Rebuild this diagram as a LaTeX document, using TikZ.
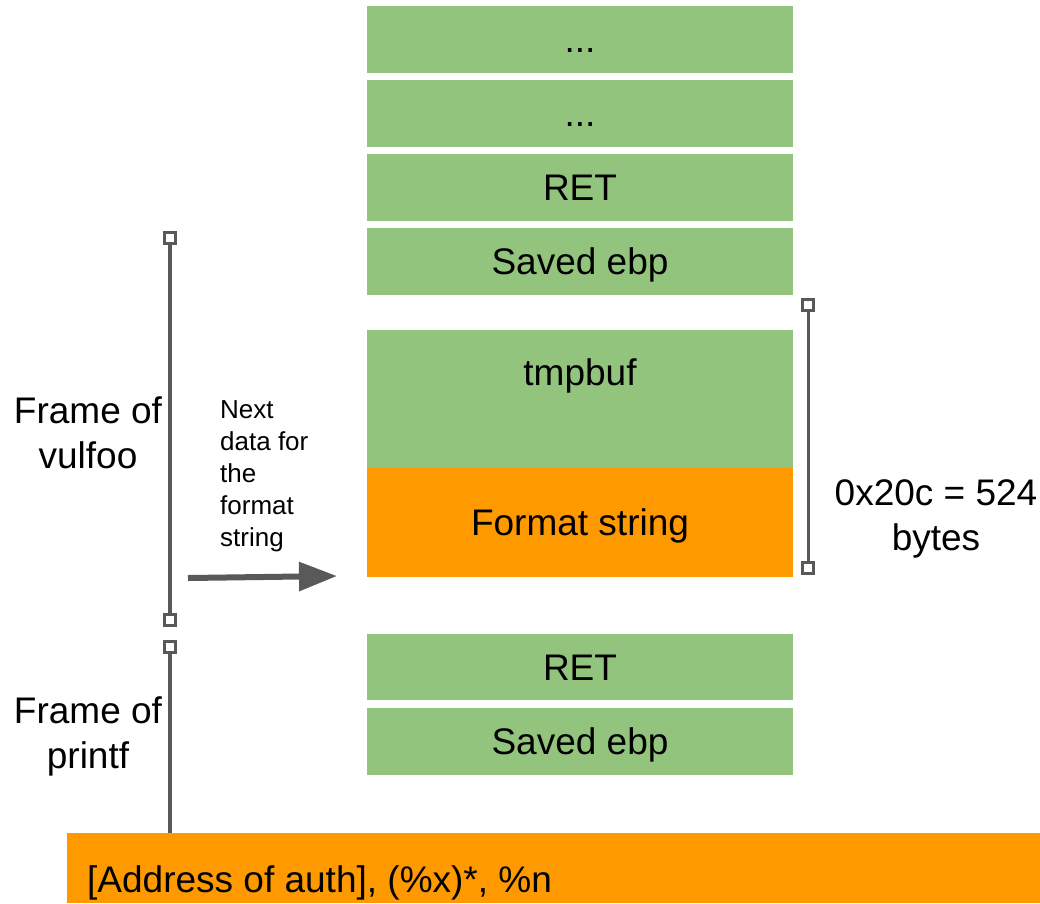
\documentclass[tikz,border=0pt]{standalone}
\usepackage{fontspec}
\setmainfont{Liberation Sans}
\usetikzlibrary{arrows.meta}
\definecolor{gfill}{HTML}{93C47D}
\definecolor{ofill}{HTML}{FF9900}
\definecolor{lgray}{HTML}{595959}
\begin{document}
\begin{tikzpicture}[x=1pt,y=-1pt,
  bigtxt/.style={font=\fontsize{37}{45}\selectfont},
  gbox/.style={fill=gfill,draw=none,minimum width=426pt,inner sep=0pt,
    text height=26.5pt,text depth=0pt,font=\fontsize{37}{45}\selectfont},
  obox/.style={gbox,fill=ofill},
  endsq/.style={draw=lgray,fill=white,line width=3.5pt,minimum size=11pt,inner sep=0pt},
  vline/.style={draw=lgray,line width=4pt},
  rline/.style={draw=lgray,line width=3pt}]
\useasboundingbox (0,0) rectangle (1040,903);
% upper stack
\node[gbox,minimum height=67pt] (d1) at (580,39.5) {...};
\node[gbox,minimum height=67pt] (d2) at (580,113.5) {...};
\node[gbox,minimum height=67pt] (ret1) at (580,187.5) {RET};
\node[gbox,minimum height=67pt] (ebp1) at (580,261.5) {Saved ebp};
\node[gbox,minimum height=138pt] (tmp) at (580,399) {};
\node[bigtxt,anchor=base] (tmpl) at (580,385) {tmpbuf};
\node[obox,minimum height=109pt] (fmt) at (580,522.5) {Format string};
% lower stack
\node[gbox,minimum height=66pt] (ret2) at (580,667) {RET};
\node[gbox,minimum height=67pt] (ebp2) at (580,741.5) {Saved ebp};
% bottom string
\node[fill=ofill,minimum width=973pt,minimum height=70pt,inner sep=0pt] (bot) at (553.5,868) {};
\node[bigtxt,anchor=base west,inner sep=0pt] (botl) at (87,892) {[Address of auth], (\%x)*, \%n};
% left frame markers
\node[endsq] (s1) at (170,238) {};
\node[endsq] (s2) at (170,620) {};
\node[endsq] (s3) at (170,647) {};
\coordinate (s4) at (170,833);
\draw[vline] (s1) -- (s2);
\draw[vline] (s3) -- (s4);
\node[bigtxt,align=center] (fv) at (88,433) {Frame of\\vulfoo};
\node[bigtxt,align=center] (fp) at (88,736) {Frame of\\printf};
% right size marker
\node[endsq] (r1) at (808,305) {};
\node[endsq] (r2) at (808,568) {};
\draw[rline] (r1) -- (r2);
\node[bigtxt,align=center] (sz) at (936,519) {0x20c = 524\\bytes};
% arrow
\node[align=left,anchor=north west,inner sep=0pt,font=\fontsize{26}{32.2}\selectfont] (nx) at (220,400) {Next\\data for\\the\\format\\string};
\coordinate (a1) at (188,578);
\coordinate (a2) at (337,576);
\draw[draw=lgray,line width=6pt,-{Triangle[length=38pt,width=28pt]}] (a1) -- (a2);
\end{tikzpicture}
\end{document}
